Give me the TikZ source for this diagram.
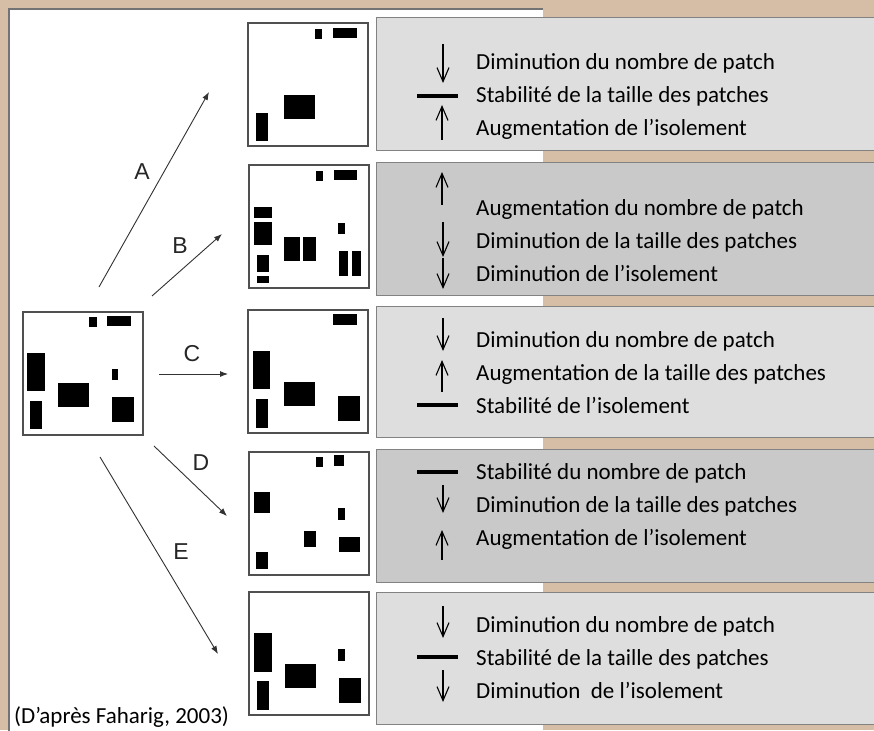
\documentclass[tikz,border=0pt]{standalone}
\usepackage{fontspec}
\setmainfont{Carlito}
\newfontfamily\labfont{Liberation Sans}
\usetikzlibrary{arrows.meta}
\definecolor{tanbg}{RGB}{214,189,165}
\definecolor{lightbox}{RGB}{222,222,222}
\definecolor{darkbox}{RGB}{201,201,201}
\definecolor{boxline}{RGB}{130,130,130}
\definecolor{sqline}{RGB}{80,80,80}
\definecolor{conncol}{RGB}{50,50,50}
\newcommand\patchrect[4]{\fill[black] (#1,#2) rectangle (#3,#4);}
\begin{document}
\begin{tikzpicture}[x=1pt,y=-1pt,
  infobox/.style={draw=boxline,line width=0.9pt,anchor=north west,minimum width=520pt,minimum height=133pt,inner sep=0pt,outer sep=0pt},
  sqbox/.style={draw=sqline,line width=1.2pt,fill=white,minimum width=120pt,minimum height=123pt,inner sep=0pt,outer sep=0pt,anchor=north west},
  conn/.style={draw=conncol,line width=0.9pt,-{Latex[length=8pt,width=6pt]}},
  arlabel/.style={font=\labfont\fontsize{23}{23}\selectfont,text=black!85,inner sep=0pt},
  info/.style={font=\fontsize{23}{23}\selectfont,anchor=base west,inner sep=0pt},
  sym/.style={line width=1.1pt,-{Straight Barb[length=14pt,width=12pt]}},
  bar/.style={line width=3.4pt}]
\clip (0,0) rectangle (874,730);
\fill[tanbg] (0,0) rectangle (874,730);
\fill[white] (9,9) rectangle (543,740);
\draw[sqline!80,line width=1.2pt] (9,740) -- (9,9) -- (543,9);

% grey boxes
\node[infobox,fill=lightbox] (b1) at (376,17) {};
\node[infobox,fill=darkbox]  (b2) at (376,162) {};
\node[infobox,fill=lightbox,minimum height=131pt] (b3) at (376,306) {};
\node[infobox,fill=darkbox]  (b4) at (376,449) {};
\node[infobox,fill=lightbox,minimum height=132pt] (b5) at (376,592) {};

% squares
\node[sqbox] (s0) at (23,312) {};
\node[sqbox] (s1) at (248,23) {};
\node[sqbox] (s2) at (249,165) {};
\node[sqbox] (s3) at (248,310) {};
\node[sqbox] (s4) at (249,452) {};
\node[sqbox] (s5) at (249,592) {};

% patches: original landscape
\begin{scope}[shift={(23,312)}]
\patchrect{66}{5}{74}{15}
\patchrect{84}{4}{108}{14}
\patchrect{4}{41}{22}{79}
\patchrect{7}{89}{19}{117}
\patchrect{35}{71}{66}{95}
\patchrect{89}{57}{95}{68}
\patchrect{89}{85}{111}{110}
\end{scope}
% A
\begin{scope}[shift={(248,23)}]
\patchrect{67}{6}{74}{16}
\patchrect{85}{5}{109}{15}
\patchrect{36}{72}{67}{96}
\patchrect{8}{90}{20}{118}
\end{scope}
% B
\begin{scope}[shift={(249,165)}]
\patchrect{67}{6}{74}{16}
\patchrect{85}{5}{108}{15}
\patchrect{5}{42}{23}{53}
\patchrect{5}{57}{23}{80}
\patchrect{8}{90}{20}{107}
\patchrect{8}{111}{20}{118}
\patchrect{35}{72}{51}{96}
\patchrect{54}{72}{67}{96}
\patchrect{89}{58}{96}{69}
\patchrect{90}{86}{99}{111}
\patchrect{103}{86}{112}{111}
\end{scope}
% C
\begin{scope}[shift={(248,310)}]
\patchrect{85}{4}{109}{15}
\patchrect{5}{41}{22}{79}
\patchrect{8}{89}{20}{118}
\patchrect{36}{72}{67}{96}
\patchrect{90}{86}{112}{111}
\end{scope}
% D
\begin{scope}[shift={(249,452)}]
\patchrect{67}{5}{74}{15}
\patchrect{85}{3}{95}{14}
\patchrect{5}{40}{21}{61}
\patchrect{89}{56}{96}{68}
\patchrect{55}{79}{67}{95}
\patchrect{90}{85}{111}{100}
\patchrect{7}{100}{19}{117}
\end{scope}
% E
\begin{scope}[shift={(249,592)}]
\patchrect{5}{41}{23}{80}
\patchrect{8}{89}{20}{118}
\patchrect{36}{72}{67}{96}
\patchrect{89}{57}{96}{69}
\patchrect{90}{86}{112}{111}
\end{scope}

% connectors
\coordinate (aS) at (99,287);  \coordinate (aE) at (209,92);
\coordinate (bS) at (152,296); \coordinate (bE) at (222,234);
\coordinate (cS) at (159,374); \coordinate (cE) at (228,374);
\coordinate (dS) at (154,446); \coordinate (dE) at (227,516);
\coordinate (eS) at (100,457); \coordinate (eE) at (218,654);
\draw[conn] (aS) -- (aE);
\draw[conn] (bS) -- (bE);
\draw[conn] (cS) -- (cE);
\draw[conn] (dS) -- (dE);
\draw[conn] (eS) -- (eE);
\node[arlabel] (lA) at (142,172) {A};
\node[arlabel] (lB) at (180,246) {B};
\node[arlabel] (lC) at (192,354) {C};
\node[arlabel] (lD) at (201,463) {D};
\node[arlabel] (lE) at (181,552) {E};

% box 1
\draw[sym] (443,44) -- (443,83);
\draw[bar] (417,96) -- (458,96);
\draw[sym] (442,140) -- (442,105);
\node[info] (t11) at (476,70) {Diminution du nombre de patch};
\node[info] (t12) at (476,103) {Stabilité de la taille des patches};
\node[info] (t13) at (476,136) {Augmentation de l’isolement};
% box 2
\draw[sym] (442,205) -- (442,172);
\draw[sym] (443,222) -- (443,257);
\draw[sym] (443,258) -- (443,289);
\node[info] (t21) at (476,215) {Augmentation du nombre de patch};
\node[info] (t22) at (476,248) {Diminution de la taille des patches};
\node[info] (t23) at (476,281) {Diminution de l’isolement};
% box 3
\draw[sym] (443,318) -- (443,351);
\draw[sym] (442,392) -- (442,360);
\draw[bar] (417,405) -- (458,405);
\node[info] (t31) at (476,347) {Diminution du nombre de patch};
\node[info] (t32) at (476,380) {Augmentation de la taille des patches};
\node[info] (t33) at (476,413) {Stabilité de l’isolement};
% box 4
\draw[bar] (417,472) -- (458,472);
\draw[sym] (443,485) -- (443,513);
\draw[sym] (442,560) -- (442,530);
\node[info] (t41) at (476,479) {Stabilité du nombre de patch};
\node[info] (t42) at (476,512) {Diminution de la taille des patches};
\node[info] (t43) at (476,545) {Augmentation de l’isolement};
% box 5
\draw[sym] (443,606) -- (443,638);
\draw[bar] (417,657) -- (458,657);
\draw[sym] (443,670) -- (443,702);
\node[info] (t51) at (476,632) {Diminution du nombre de patch};
\node[info] (t52) at (476,665) {Stabilité de la taille des patches};
\node[info] (t53) at (476,698) {Diminution\ \ de l’isolement};

\node[font=\fontsize{23}{23}\selectfont,anchor=base west,inner sep=0pt] (cap) at (14,723) {(D’après Faharig, 2003)};
\end{tikzpicture}
\end{document}
